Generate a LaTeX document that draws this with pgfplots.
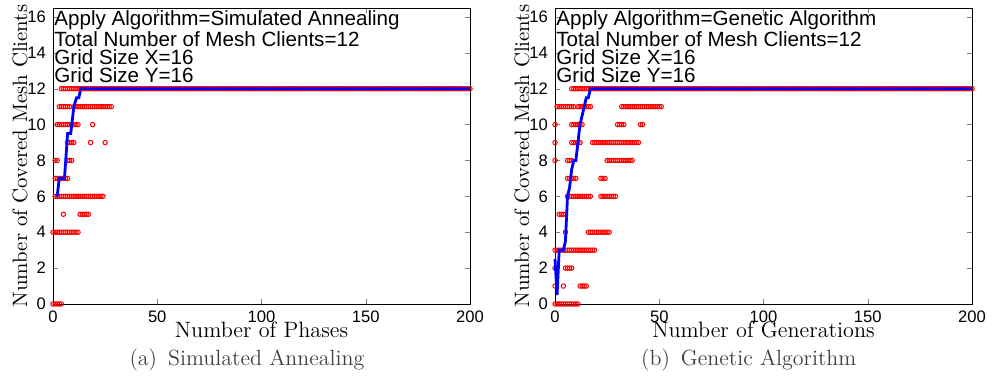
\documentclass[border=0pt]{standalone}
\usepackage{pgfplots}
\pgfplotsset{compat=1.18}
\usepackage{fontspec}
\newfontfamily\helv{Liberation Sans}
\pgfplotsset{
 mystyle/.style={
  scale only axis, width=208.5pt, height=148pt,
  xmin=0,xmax=200,ymin=0,ymax=16.5,
  xtick={0,50,100,150,200}, ytick={0,2,4,6,8,10,12,14,16},
  major tick length=2.5pt,
  tick label style={font=\helv\fontsize{8.3}{9}\selectfont},
  /pgf/number format/assume math mode=true,
  clip=false, clip marker paths=true,
  xlabel style={font=\fontsize{11.1}{12}\selectfont, at={(axis description cs:0.5,-0.058)}, anchor=north, inner sep=0pt},
  ylabel style={font=\fontsize{10.4}{12}\selectfont, at={(axis description cs:-0.079,0.5)}, anchor=center, inner sep=0pt},
  ylabel={Number of Covered Mesh Clients},
 },
 pts/.style={only marks, mark=o, red, mark size=1.1pt, mark options={line width=0.5pt}},
 best/.style={blue, line width=1.4pt, no marks},
}
\begin{document}
\begin{tikzpicture}
\useasboundingbox (0,0) rectangle (498pt,189.5pt);
% ---------------- Simulated Annealing ----------------
\begin{axis}[mystyle, at={(26.5pt,37.5pt)}, anchor=south west, xlabel={Number of Phases}]
\addplot[pts] coordinates {
(4,12)(5,12)(6,12)(7,12)(8,12)(9,12)(10,12)(11,12)(12,12)(13,12)(14,12)(15,12)(16,12)(17,12)(18,12)(19,12)(20,12)
(21,12)(22,12)(23,12)(24,12)(25,12)(26,12)(27,12)(28,12)(29,12)(30,12)(31,12)(32,12)(33,12)(34,12)(35,12)(36,12)(37,12)(38,12)(39,12)(40,12)
(41,12)(42,12)(43,12)(44,12)(45,12)(46,12)(47,12)(48,12)(49,12)(50,12)(51,12)(52,12)(53,12)(54,12)(55,12)(56,12)(57,12)(58,12)(59,12)(60,12)
(61,12)(62,12)(63,12)(64,12)(65,12)(66,12)(67,12)(68,12)(69,12)(70,12)(71,12)(72,12)(73,12)(74,12)(75,12)(76,12)(77,12)(78,12)(79,12)(80,12)
(81,12)(82,12)(83,12)(84,12)(85,12)(86,12)(87,12)(88,12)(89,12)(90,12)(91,12)(92,12)(93,12)(94,12)(95,12)(96,12)(97,12)(98,12)(99,12)(100,12)
(101,12)(102,12)(103,12)(104,12)(105,12)(106,12)(107,12)(108,12)(109,12)(110,12)(111,12)(112,12)(113,12)(114,12)(115,12)(116,12)(117,12)(118,12)(119,12)(120,12)
(121,12)(122,12)(123,12)(124,12)(125,12)(126,12)(127,12)(128,12)(129,12)(130,12)(131,12)(132,12)(133,12)(134,12)(135,12)(136,12)(137,12)(138,12)(139,12)(140,12)
(141,12)(142,12)(143,12)(144,12)(145,12)(146,12)(147,12)(148,12)(149,12)(150,12)(151,12)(152,12)(153,12)(154,12)(155,12)(156,12)(157,12)(158,12)(159,12)(160,12)
(161,12)(162,12)(163,12)(164,12)(165,12)(166,12)(167,12)(168,12)(169,12)(170,12)(171,12)(172,12)(173,12)(174,12)(175,12)(176,12)(177,12)(178,12)(179,12)(180,12)
(181,12)(182,12)(183,12)(184,12)(185,12)(186,12)(187,12)(188,12)(189,12)(190,12)(191,12)(192,12)(193,12)(194,12)(195,12)(196,12)(197,12)(198,12)(199,12)(200,12)
(3,11)(4,11)(5,11)(6,11)(7,11)(8,11)(10,11)(11,11)(12,11)(13,11)(14,11)(15,11)(16,11)(17,11)(18,11)(19,11)(20,11)(21,11)(22,11)(23,11)(24,11)(25,11)(26,11)(27,11)(28,11)
(2,10)(3,10)(4,10)(5,10)(6,10)(7,10)(8,10)(9,10)(10,10)(11,10)(12,10)(19,10)
(7,9)(8,9)(9,9)(10,9)(18,9)(25,9)
(1,8)(2,8)(7,8)(8,8)(9,8)
(1,7)(2,7)(3,7)(4,7)(5,7)(6,7)(7,7)
(1,6)(2,6)(3,6)(4,6)(5,6)(6,6)(7,6)(8,6)(9,6)(10,6)(11,6)(12,6)(13,6)(14,6)(15,6)(16,6)(17,6)(18,6)(19,6)(20,6)(21,6)(22,6)(23,6)(24,6)
(5,5)(13,5)(14,5)(15,5)(16,5)(17,5)
(0,4)(1,4)(2,4)(3,4)(4,4)(5,4)(6,4)(7,4)(8,4)(9,4)(10,4)(11,4)(12,4)
(0,0)(1,0)(2,0)(3,0)(4,0)
};
\addplot[best] coordinates {(2,6)(3,7)(5.5,7)(7,9.5)(8.5,9.5)(10,11)(11.3,11.5)(12.4,11.5)(13.3,12)(200,12)};
\node[anchor=north west, inner sep=0pt, align=left, xshift=0.5pt, yshift=-1pt, font=\helv\fontsize{10.3}{9.1}\selectfont] at (rel axis cs:0,1)
 {Apply Algorithm=Simulated Annealing\\Total Number of Mesh Clients=12\\Grid Size X=16\\Grid Size Y=16};
\end{axis}
% ---------------- Genetic Algorithm ----------------
\begin{axis}[mystyle, at={(277.5pt,37.5pt)}, anchor=south west, xlabel={Number of Generations}]
\addplot[pts] coordinates {
(8,12)(9,12)(10,12)(11,12)(12,12)(13,12)(14,12)(15,12)(16,12)(17,12)(18,12)(19,12)(20,12)
(21,12)(22,12)(23,12)(24,12)(25,12)(26,12)(27,12)(28,12)(29,12)(30,12)(31,12)(32,12)(33,12)(34,12)(35,12)(36,12)(37,12)(38,12)(39,12)(40,12)
(41,12)(42,12)(43,12)(44,12)(45,12)(46,12)(47,12)(48,12)(49,12)(50,12)(51,12)(52,12)(53,12)(54,12)(55,12)(56,12)(57,12)(58,12)(59,12)(60,12)
(61,12)(62,12)(63,12)(64,12)(65,12)(66,12)(67,12)(68,12)(69,12)(70,12)(71,12)(72,12)(73,12)(74,12)(75,12)(76,12)(77,12)(78,12)(79,12)(80,12)
(81,12)(82,12)(83,12)(84,12)(85,12)(86,12)(87,12)(88,12)(89,12)(90,12)(91,12)(92,12)(93,12)(94,12)(95,12)(96,12)(97,12)(98,12)(99,12)(100,12)
(101,12)(102,12)(103,12)(104,12)(105,12)(106,12)(107,12)(108,12)(109,12)(110,12)(111,12)(112,12)(113,12)(114,12)(115,12)(116,12)(117,12)(118,12)(119,12)(120,12)
(121,12)(122,12)(123,12)(124,12)(125,12)(126,12)(127,12)(128,12)(129,12)(130,12)(131,12)(132,12)(133,12)(134,12)(135,12)(136,12)(137,12)(138,12)(139,12)(140,12)
(141,12)(142,12)(143,12)(144,12)(145,12)(146,12)(147,12)(148,12)(149,12)(150,12)(151,12)(152,12)(153,12)(154,12)(155,12)(156,12)(157,12)(158,12)(159,12)(160,12)
(161,12)(162,12)(163,12)(164,12)(165,12)(166,12)(167,12)(168,12)(169,12)(170,12)(171,12)(172,12)(173,12)(174,12)(175,12)(176,12)(177,12)(178,12)(179,12)(180,12)
(181,12)(182,12)(183,12)(184,12)(185,12)(186,12)(187,12)(188,12)(189,12)(190,12)(191,12)(192,12)(193,12)(194,12)(195,12)(196,12)(197,12)(198,12)(199,12)(200,12)
(1,11)(2,11)(3,11)(4,11)(5,11)(6,11)(7,11)(8,11)(9,11)(11,11)(12,11)(13,11)(14,11)(15,11)(16,11)(17,11)
(32,11)(33,11)(34,11)(35,11)(36,11)(37,11)(38,11)(39,11)(40,11)(41,11)(42,11)(43,11)(44,11)(45,11)(46,11)(47,11)(48,11)(49,11)(50,11)(51,11)
(0,10)(8,10)(9,10)(10,10)(11,10)(12,10)(13,10)(30,10)(31,10)(32,10)(33,10)(41,10)(42,10)
(0,9)(8,9)(9,9)(10,9)(11,9)(12,9)(18,9)(19,9)(20,9)(21,9)(22,9)(23,9)(24,9)(25,9)(26,9)(27,9)(28,9)(29,9)(30,9)(31,9)(32,9)(33,9)(34,9)(35,9)(36,9)(37,9)(38,9)(39,9)(40,9)
(0,8)(6,8)(7,8)(8,8)(25,8)(26,8)(27,8)(28,8)(29,8)(30,8)(31,8)(32,8)(33,8)(34,8)(35,8)(36,8)(37,8)
(6,7)(7,7)(8,7)(9,7)(10,7)(22,7)(23,7)(24,7)
(6,6)(7,6)(8,6)(9,6)(10,6)(11,6)(12,6)(13,6)(14,6)(15,6)(16,6)(17,6)(22,6)(23,6)(24,6)(25,6)(26,6)(27,6)(28,6)(29,6)
(2,5)(3,5)(4,5)(5,5)
(5,4)(16,4)(17,4)(18,4)(19,4)(20,4)(21,4)(22,4)(23,4)(24,4)(25,4)(26,4)
(0,3)(1,3)(2,3)(3,3)(4,3)(5,3)(6,3)(7,3)(8,3)(9,3)(10,3)(11,3)(12,3)(13,3)(14,3)(15,3)(16,3)(17,3)(18,3)(19,3)
(0,2)(5,2)(6,2)(7,2)(8,2)
(0,1)(4,1)(12,1)(13,1)(14,1)(15,1)
(0,0)(1,0)(2,0)(3,0)(4,0)(5,0)(6,0)(7,0)(8,0)(9,0)(10,0)(11,0)
};
\addplot[best] coordinates {(0,2.5)(1,0.5)(2,3)(4,3)(5,3.5)(6,6)(7,6.5)(8,7.5)(9,8)(10,8)(11,9)(12,10)(13,10.5)(14,11)(15,11.5)(16,11.5)(17,12)(200,12)};
\node[anchor=north west, inner sep=0pt, align=left, xshift=0.5pt, yshift=-1pt, font=\helv\fontsize{10.3}{9.1}\selectfont] at (rel axis cs:0,1)
 {Apply Algorithm=Genetic Algorithm\\Total Number of Mesh Clients=12\\Grid Size X=16\\Grid Size Y=16};
\end{axis}
% captions
\node[font=\fontsize{11}{12}\selectfont, text=black!75, inner sep=0pt] at (123.5pt,9.5pt) {(a)\hspace{5.5pt}Simulated Annealing};
\node[font=\fontsize{11}{12}\selectfont, text=black!75, inner sep=0pt] at (374.4pt,9.5pt) {(b)\hspace{5.5pt}Genetic Algorithm};
\end{tikzpicture}
\end{document}
